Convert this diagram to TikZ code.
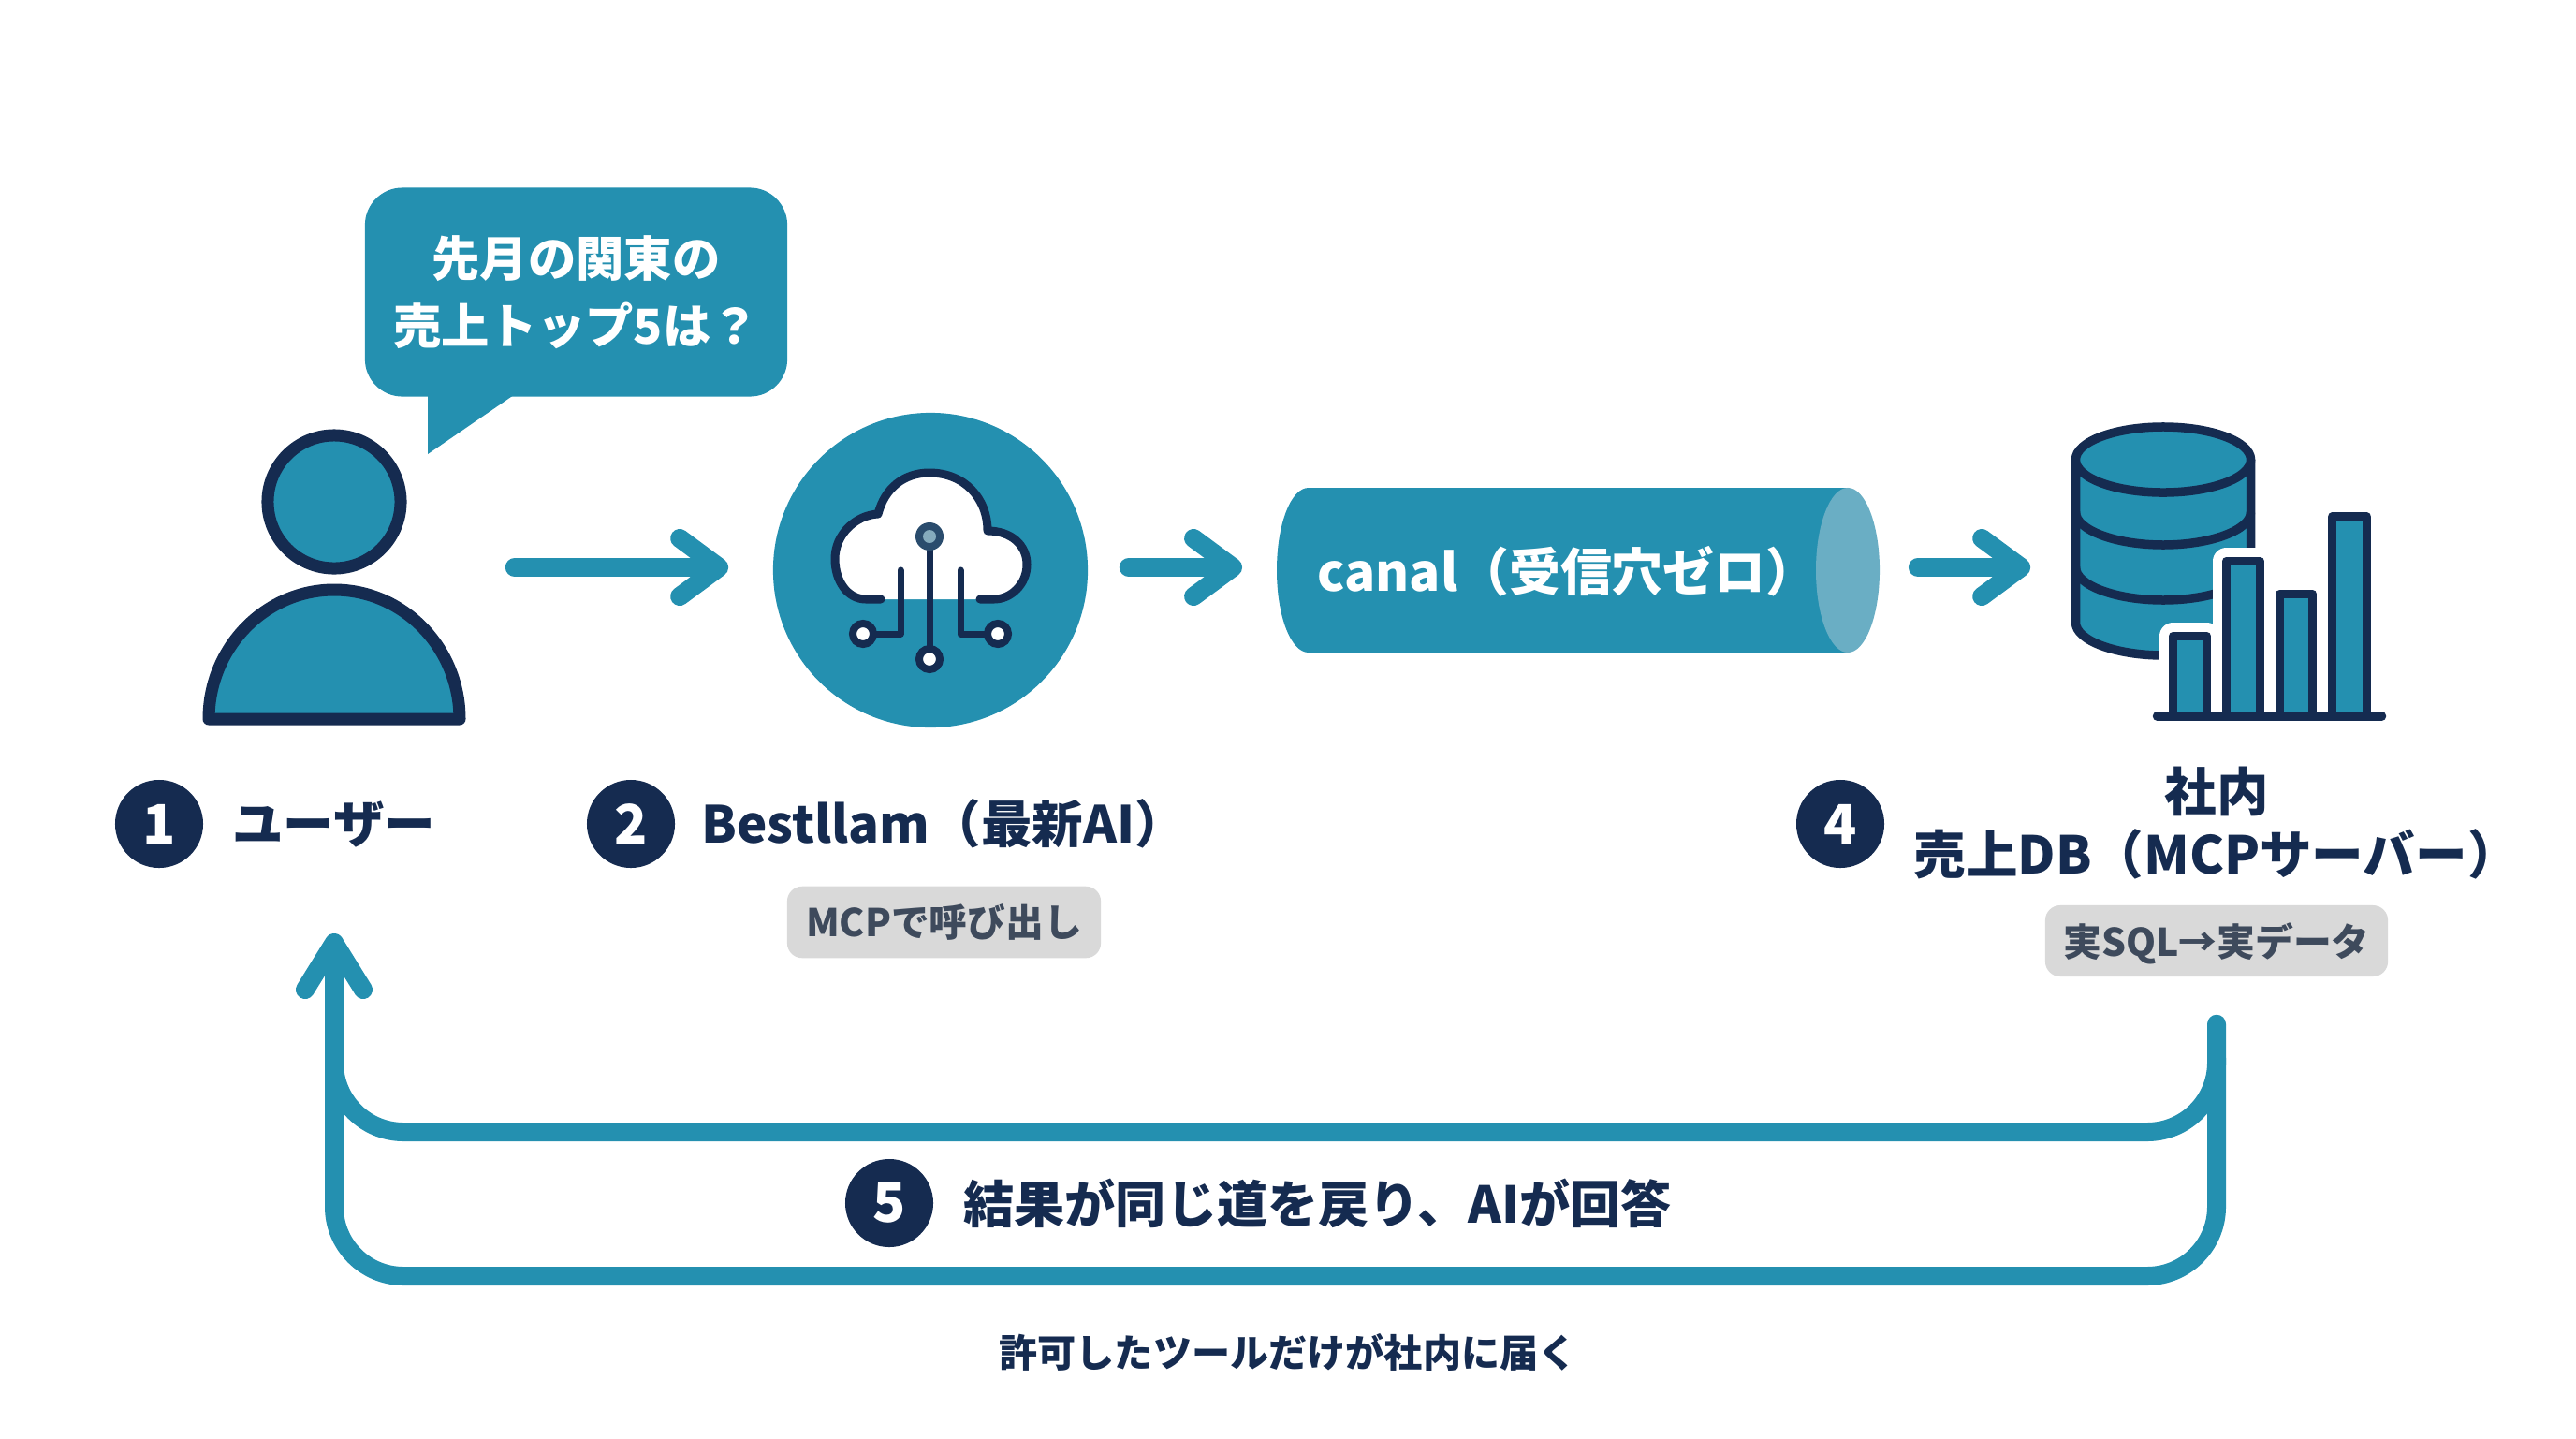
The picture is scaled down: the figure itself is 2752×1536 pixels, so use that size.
\documentclass[tikz,border=0pt]{standalone}
\usepackage{fontspec}
\setmainfont{Noto Sans CJK JP}
\usetikzlibrary{positioning}
\usetikzlibrary{arrows.meta}
\definecolor{canalteal}{RGB}{36,144,176}
\definecolor{canalcap}{RGB}{106,174,196}
\definecolor{navy}{RGB}{21,43,80}
\definecolor{taggray}{RGB}{217,217,217}
\definecolor{tagtext}{RGB}{62,74,92}
\tikzset{
  flow/.style={draw=canalteal, line width=0.2cm, line cap=round},
  barb/.style={-{Straight Barb[round, length=0.42cm, width=0.62cm]}},
  icon/.style={draw=navy, line width=0.13cm, fill=canalteal, line join=round},
  wire/.style={draw=navy, line width=0.07cm, line cap=round, line join=round},
  badge/.style={circle, fill=navy, text=white, minimum size=0.94cm, inner sep=0pt,
    font=\bfseries\fontsize{16.5}{18}\selectfont},
  stepname/.style={text=navy, inner sep=0pt, font=\bfseries\fontsize{15.5}{19}\selectfont},
  tag/.style={fill=taggray, text=tagtext, rounded corners=0.16cm, inner sep=0pt,
    font=\bfseries\fontsize{11.6}{14}\selectfont},
  ghost/.style={inner sep=0pt},
}
\begin{document}
\begin{tikzpicture}[x=0.01cm, y=-0.01cm]
  \useasboundingbox (0,0) rectangle (2752,1536);

  % speech bubble
  \fill [canalteal] (457,415) -- (457,485) -- (559,415) -- cycle;
  \node [fill=canalteal, text=white, rounded corners=0.4cm, minimum width=4.51cm, minimum height=2.23cm,
    align=center, inner sep=0pt, font=\bfseries\fontsize{14.6}{20.5}\selectfont] at (615.5,312) (ask) {先月の関東の\\売上トップ5は？};

  % user
  \draw [icon] (357,536) circle [radius=0.71cm];
  \draw [icon] (223,768) .. controls (223,692) and (283,630) .. (357,630) .. controls (431,630) and (491,692) .. (491,768) -- cycle;
  \node [ghost, minimum width=2.82cm, minimum height=3.36cm] at (357,606) (user) {};

  % model
  \node [circle, fill=canalteal, minimum size=3.36cm, inner sep=0pt] at (994,609) (llm) {};
  \draw [wire, line width=0.09cm, fill=white] (941,640) -- (925,640) .. controls (905,640) and (892,620) .. (892,597) .. controls (892,570) and (915,550) .. (938,549)
    .. controls (945,522) and (965,505) .. (993,505) .. controls (1030,505) and (1055,532) .. (1055,567)
    .. controls (1080,567) and (1097,582) .. (1097,603) .. controls (1097,624) and (1080,640) .. (1062,640) -- (1047,640);
  \draw [wire] (993,573) -- (993,704);
  \draw [wire] (962,609) -- (962,677) -- (922,677);
  \draw [wire] (1026,609) -- (1026,677) -- (1066,677);
  \foreach \x/\y in {922/677, 1066/677, 993/704} {
    \draw [navy, line width=0.08cm, fill=white] (\x,\y) circle [radius=0.11cm];
  }
  \fill [navy!75!canalcap] (993,573) circle [radius=0.15cm];
  \fill [canalcap!70!navy!70!white] (993,573) circle [radius=0.07cm];

  % canal
  \fill [canalteal] (1398,521) -- (1974,521) -- (1974,697) -- (1398,697) .. controls (1379,697) and (1364,658) .. (1364,609) .. controls (1364,560) and (1379,521) .. (1398,521) -- cycle;
  \fill [canalcap] (1974,609) ellipse [x radius=0.34cm, y radius=0.88cm];
  \node [ghost, minimum width=6.44cm, minimum height=1.76cm] at (1686,606) (canal) {};
  \node [anchor=west, text=white, inner sep=0pt, font=\bfseries\fontsize{15.6}{19}\selectfont] at (1407,610) (canaltext) {canal（受信穴ゼロ）};

  % database
  \draw [icon, line width=0.095cm] (2217.5,491) -- (2217.5,665) .. controls (2217.5,684) and (2260,700) .. (2311,700) .. controls (2362,700) and (2404.5,684) .. (2404.5,665) -- (2404.5,491);
  \foreach \y in {547,606} {
    \draw [navy, line width=0.095cm] (2217.5,\y) .. controls (2217.5,\y+19) and (2260,\y+35) .. (2311,\y+35) .. controls (2362,\y+35) and (2404.5,\y+19) .. (2404.5,\y);
  }
  \draw [icon, line width=0.095cm] (2311,491) ellipse [x radius=0.935cm, y radius=0.35cm];
  \node [ghost, minimum width=3.36cm, minimum height=3.2cm] at (2381,606) (db) {};

  % bars
  \foreach \a/\b/\t in {2321.5/2357.5/679.5, 2378.5/2414.5/599.5} {
    \draw [white, line width=0.29cm, line join=round] (\a,765) -- (\a,\t) -- (\b,\t) -- (\b,765);
  }
  \foreach \a/\b/\t in {2321.5/2357.5/679.5, 2378.5/2414.5/599.5, 2435.5/2470.5/634.5, 2491.5/2528.5/552} {
    \draw [icon, line width=0.095cm] (\a,765) -- (\a,\t) -- (\b,\t) -- (\b,765);
  }
  \draw [navy, line width=0.095cm, line cap=round] (2304.5,765) -- (2544.5,765);

  % arrows between the stages
  \draw [flow, barb, shorten <=0.51cm, shorten >=0.47cm] (user.east) -- (user.east -| llm.west);
  \draw [flow, barb, shorten <=0.43cm, shorten >=0.36cm] (canal.west -| llm.east) -- (canal.west);
  \draw [flow, barb, shorten <=0.40cm, shorten >=0.43cm] (canal.east) -- (canal.east -| db.west);

  % labels
  \node [badge] at (170,880) (one) {1};
  \node [stepname, right=0.30cm of one, yshift=-0.01cm] (onetext) {ユーザー};
  \node [badge] at (674,880) (two) {2};
  \node [stepname, right=0.27cm of two] (twotext) {Bestllam（最新AI）};
  \node [tag, minimum width=3.35cm, minimum height=0.765cm] at (1008.5,985) (calltag) {MCPで呼び出し};
  \node [badge] at (1966,880) (four) {4};
  \node [stepname, align=center, font=\bfseries\fontsize{15.8}{19}\selectfont] at (2368,879) (dbtext) {社内\\売上DB（MCPサーバー）};
  \node [tag, minimum width=3.66cm, minimum height=0.76cm, text depth=0.03cm] at (2368,1005) (dbtag) {実SQL→実データ};

  % way back
  \coordinate (upper) at (1362,1209);
  \coordinate (lower) at (1362,1363);
  \coordinate (back) at (357,997);
  \draw [flow, rounded corners=0.74cm, shorten <=0.5cm, -{Straight Barb[round, length=0.5cm, width=0.62cm]}] (dbtag.south) |- (upper) -| (back);
  \draw [flow, rounded corners=0.74cm] (2368,1130) |- (lower) -| (357,1130);

  \node [badge] at (950,1285) (five) {5};
  \node [stepname, right=0.31cm of five, font=\bfseries\fontsize{15.4}{19}\selectfont] (fivetext) {結果が同じ道を戻り、AIが回答};
  \node [text=navy, inner sep=0pt, font=\bfseries\fontsize{11.7}{14}\selectfont] at (1376,1444) (note) {許可したツールだけが社内に届く};
\end{tikzpicture}
\end{document}
